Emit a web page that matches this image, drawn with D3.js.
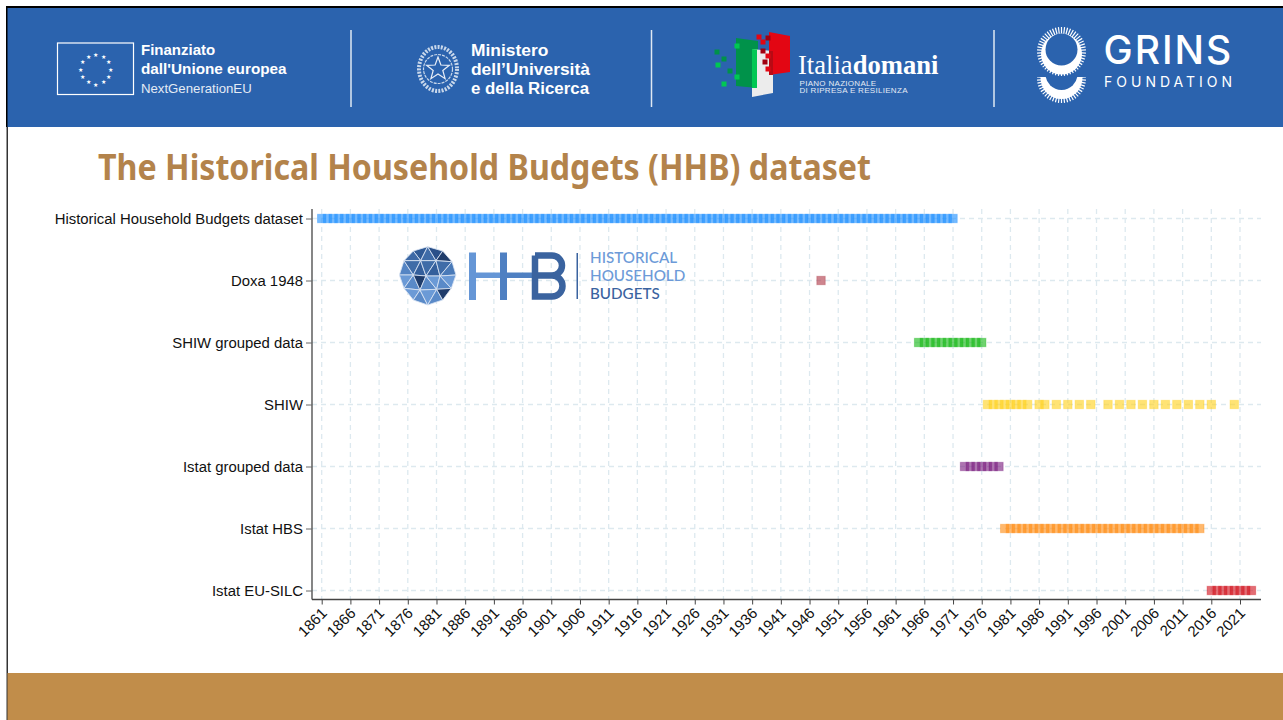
<!DOCTYPE html>
<html>
<head>
<meta charset="utf-8">
<script src="https://d3js.org/d3.v7.min.js"></script>
<style>
html, body { margin: 0; padding: 0; background: #fff; overflow: hidden; }
svg { display: block; }
text { font-family: "Liberation Sans", Arial, sans-serif; }
</style>
</head>
<body>
<svg id="chart" width="1283" height="720"></svg>
<script>
const categories = ['Historical Household Budgets dataset', 'Doxa 1948', 'SHIW grouped data', 'SHIW', 'Istat grouped data', 'Istat HBS', 'Istat EU-SILC'];
const colors = ['#1e90ff', '#b03a48', '#16b816', '#ffd21e', '#7a1f80', '#ff8c14', '#d2141e'];

const hhbYears = [1861,1862,1863,1864,1865,1866,1867,1868,1869,1870,1871,1872,1873,1874,1875,1876,1877,1878,1879,1880,
  1881,1882,1883,1884,1885,1886,1887,1888,1889,1890,1891,1892,1893,1894,1895,1896,1897,1898,1899,1900,
  1901,1902,1903,1904,1905,1906,1907,1908,1909,1910,1911,1912,1913,1914,1915,1916,1917,1918,1919,1920,
  1921,1922,1923,1924,1925,1926,1927,1928,1929,1930,1931,1932,1933,1934,1935,1936,1937,1938,1939,1940,
  1941,1942,1943,1944,1945,1946,1947,1948,1949,1950,1951,1952,1953,1954,1955,1956,1957,1958,1959,1960,
  1961,1962,1963,1964,1965,1966,1967,1968,1969,1970,1971];
const doxaYears = [1948];
const shiwGroupedYears = [1965,1966,1967,1968,1969,1970,1971,1972,1973,1974,1975,1976];
const shiwYears = [1977,1978,1979,1980,1981,1982,1983,1984,1986,1987,1989,1991,1993,1995,1998,2000,2002,2004,2006,2008,2010,2012,2014,2016,2020];
const istatGroupedYears = [1973,1974,1975,1976,1977,1978,1979];
const istatHbsYears = [1980,1981,1982,1983,1984,1985,1986,1987,1988,1989,1990,1991,1992,1993,1994,1995,1996,1997,1998,1999,
  2000,2001,2002,2003,2004,2005,2006,2007,2008,2009,2010,2011,2012,2013,2014];
const silcYears = [2016,2017,2018,2019,2020,2021,2022,2023];
const seriesYears = [hhbYears, doxaYears, shiwGroupedYears, shiwYears, istatGroupedYears, istatHbsYears, silcYears];

const tickYears = [1861,1866,1871,1876,1881,1886,1891,1896,1901,1906,1911,1916,1921,1926,1931,1936,1941,1946,1951,1956,1961,1966,1971,1976,1981,1986,1991,1996,2001,2006,2011,2016,2021];

const svg = d3.select('#chart');

// page frame
svg.append('rect').attr('x', 6).attr('y', 6).attr('width', 1277).attr('height', 121).attr('fill', '#000');
svg.append('rect').attr('x', 6.5).attr('y', 127).attr('width', 1.5).attr('height', 593).attr('fill', '#333');
svg.append('rect').attr('x', 7.5).attr('y', 8).attr('width', 1275.5).attr('height', 119).attr('fill', '#2b63ae');
svg.append('rect').attr('x', 7.5).attr('y', 673).attr('width', 1275.5).attr('height', 47).attr('fill', '#c18d4a');

// header separators
[351, 651.5, 994].forEach((x) => {
    svg.append('line').attr('x1', x).attr('x2', x).attr('y1', 30).attr('y2', 107)
        .attr('stroke', '#dfe8f3').attr('stroke-width', 1.5);
});

const headerText = (x, y, str, size, weight, fill) => svg.append('text')
    .attr('x', x).attr('y', y).text(str)
    .attr('font-size', size).attr('font-weight', weight).attr('fill', fill || '#fff');

// EU logo
svg.append('rect').attr('x', 57.5).attr('y', 43).attr('width', 76).attr('height', 51.5)
    .attr('fill', 'none').attr('stroke', '#fff').attr('stroke-width', 1.2);
d3.range(12).forEach((i) => {
    const a = i * Math.PI / 6;
    svg.append('text').attr('x', 95.5 + 15 * Math.sin(a)).attr('y', 71.5 - 15 * Math.cos(a))
        .attr('text-anchor', 'middle').attr('font-size', 6).attr('fill', '#fff').text('★');
});
headerText(141, 55, 'Finanziato', 15, 'bold');
headerText(141, 74, "dall'Unione europea", 15.3, 'bold');
headerText(141, 93, 'NextGenerationEU', 13.2, 'normal', '#e4ebf5');

// Ministero emblem
const emblem = svg.append('g').attr('transform', 'translate(438,69)');
emblem.append('ellipse').attr('rx', 19).attr('ry', 22).attr('fill', 'none').attr('stroke', '#c9d8eb').attr('stroke-width', 4).attr('stroke-dasharray', '2 1.3');
emblem.append('circle').attr('r', 14.5).attr('fill', 'none').attr('stroke', '#c9d8eb').attr('stroke-width', 1.2).attr('stroke-dasharray', '3 1');
emblem.append('path').attr('fill', 'none').attr('stroke', '#e8eef7').attr('stroke-width', 1.2)
    .attr('d', d3.range(10).map((i) => {
        const r = i % 2 ? 5 : 12;
        const a = i * Math.PI / 5;
        return (i ? 'L' : 'M') + (r * Math.sin(a)).toFixed(1) + ',' + (-r * Math.cos(a)).toFixed(1);
    }).join('') + 'Z');
headerText(471, 56, 'Ministero', 17.4, 'bold');
headerText(471, 75, 'dell’Università', 17.4, 'bold');
headerText(471, 94, 'e della Ricerca', 17.4, 'bold').attr('textLength', 118).attr('lengthAdjust', 'spacingAndGlyphs');

// Italia domani logo
svg.append('path').attr('fill', '#00924a').attr('d', 'M736,38 L758,41 L758,88 L736,86 Z');
svg.append('path').attr('fill', '#ececec').attr('d', 'M752,49 L773,51 L773,93 L752,97 Z');
svg.append('path').attr('fill', '#00c853').attr('d', 'M752,49 L757,49.5 L757,88 L752,88 Z');
svg.append('path').attr('fill', '#e30613').attr('d', 'M769,32 L790,36 L790,72 L769,75 Z');
svg.append('path').attr('fill', '#b80a14').attr('d', 'M769,51 L773,51 L773,75 L769,75 Z');
[[717, 52, '#00924a'], [724, 59, '#00924a'], [718, 65, '#00c853'], [730, 71, '#00924a'], [724, 84, '#00c853'], [737, 46, '#00c853'], [737, 77, '#00c853'],
 [759, 37, '#e30613'], [768, 38, '#a00010'], [763, 42, '#e30613'], [763, 51, '#a00010'], [768, 56, '#e30613'], [765, 62, '#a00010'], [768, 69, '#e30613']].forEach((d) => {
    svg.append('rect').attr('x', d[0] - 2.5).attr('y', d[1] - 2.5).attr('width', 5).attr('height', 5).attr('fill', d[2]);
});
svg.append('text').attr('x', 798).attr('y', 74).attr('font-size', 26.6).attr('fill', '#fff')
    .style('font-family', '"Liberation Serif", serif')
    .call((t) => {
        t.append('tspan').text('Italia');
        t.append('tspan').attr('font-weight', 'bold').text('domani');
    });
headerText(799.5, 86, 'PIANO NAZIONALE', 8, 'normal', '#e4ebf5').attr('letter-spacing', 0.3);
headerText(799.5, 93, 'DI RIPRESA E RESILIENZA', 8, 'normal', '#e4ebf5').attr('letter-spacing', 0.3);

// GRINS logo
const defs = svg.append('defs');
defs.append('clipPath').attr('id', 'grins-low').append('rect').attr('x', 1030).attr('y', 77).attr('width', 64).attr('height', 30);
const radialTicks = (g, cx, cy, count) => d3.range(count).forEach((i) => {
    const a = i * 2 * Math.PI / count;
    g.append('line').attr('x1', cx).attr('y1', cy)
        .attr('x2', cx + 24.5 * Math.sin(a)).attr('y2', cy - 24.5 * Math.cos(a))
        .attr('stroke', '#fff').attr('stroke-width', 1.2);
});
const grinsTop = svg.append('g');
radialTicks(grinsTop, 1061.5, 51.5, 50);
grinsTop.append('circle').attr('cx', 1061.5).attr('cy', 54).attr('r', 20.5).attr('fill', '#fff');
grinsTop.append('circle').attr('cx', 1061.5).attr('cy', 49.5).attr('r', 16).attr('fill', '#2b63ae');
const grinsLow = svg.append('g').attr('clip-path', 'url(#grins-low)');
radialTicks(grinsLow, 1061.5, 78.5, 50);
grinsLow.append('circle').attr('cx', 1061.5).attr('cy', 78).attr('r', 21).attr('fill', '#fff');
grinsLow.append('circle').attr('cx', 1061.5).attr('cy', 74).attr('r', 16).attr('fill', '#2b63ae');
headerText(1103.5, 63.5, 'GRINS', 39, 500).attr('letter-spacing', 2).style('font-family', 'Inter, sans-serif');
headerText(1104, 87, 'FOUNDATION', 14, 'normal').attr('letter-spacing', 4).style('font-family', 'Inter, sans-serif');

// title
svg.append('text').attr('x', 98).attr('y', 180).text('The Historical Household Budgets (HHB) dataset')
    .attr('font-size', 36).attr('font-weight', 'bold').attr('fill', '#b3834b')
    .attr('textLength', 773).attr('lengthAdjust', 'spacingAndGlyphs')
    .style('font-family', '"Noto Sans", sans-serif');

// scales
const x = d3.scaleLinear().domain([1861, 2021]).range([321.7, 1240]);
const y = d3.scalePoint().domain(categories).range([218.5, 590.5]);
const plotLeft = 312, plotRight = 1261, plotTop = 209, plotBottom = 599.5;

// grid
const gridColor = '#dde9ef';
svg.append('g').selectAll('line').data(tickYears).enter().append('line')
    .attr('x1', (d) => x(d)).attr('x2', (d) => x(d))
    .attr('y1', plotTop).attr('y2', plotBottom)
    .attr('stroke', gridColor).attr('stroke-width', 1.3).attr('stroke-dasharray', '5 4');
svg.append('g').selectAll('line').data(categories).enter().append('line')
    .attr('x1', plotLeft).attr('x2', plotRight)
    .attr('y1', (d) => y(d)).attr('y2', (d) => y(d))
    .attr('stroke', gridColor).attr('stroke-width', 1.3).attr('stroke-dasharray', '5 4');

// axes
const xAxis = svg.append('g').attr('transform', `translate(0,${plotBottom})`)
    .call(d3.axisBottom(x).tickValues(tickYears).tickFormat(d3.format('d')).tickSize(5).tickSizeOuter(0));
xAxis.select('.domain').attr('d', `M${plotLeft},0H${plotRight}`).attr('stroke', '#444').attr('stroke-width', 1.3);
xAxis.selectAll('.tick line').attr('stroke', '#444');
xAxis.selectAll('text')
    .attr('font-size', 15).attr('font-family', '"Liberation Sans", Arial, sans-serif').attr('fill', '#111')
    .attr('text-anchor', 'end').attr('dx', 0).attr('dy', 0)
    .attr('transform', 'translate(0,9) rotate(-45)');

const yAxis = svg.append('g').attr('transform', `translate(${plotLeft},0)`)
    .call(d3.axisLeft(y).tickSize(6).tickSizeOuter(0).tickPadding(3));
yAxis.select('.domain').attr('d', `M0,${plotTop}V${plotBottom}`).attr('stroke', '#444').attr('stroke-width', 1.3);
yAxis.selectAll('.tick line').attr('stroke', '#666');
yAxis.selectAll('text').attr('font-size', 14.9).attr('font-family', '"Liberation Sans", Arial, sans-serif').attr('fill', '#111').attr('dy', '0.36em');

// HHB logo
const logo = svg.append('g');
const globe = logo.append('g').attr('transform', 'translate(390,240) scale(0.3333)');
const mesh = { A: [113,20], B: [70,33], C: [158,33], D: [42,62], E: [92,62], F: [138,62], G: [186,65], H: [28,105], I: [70,105], J: [108,108], K: [150,108], L: [198,105], M: [42,145], N: [90,150], O: [140,148], P: [184,145], Q: [70,180], R: [113,195], S: [158,180] };
[['ABE','#2f5a96'],['AEF','#3f6ca8'],['AFC','#2a5089'],['BDE','#3d69a6'],['CFG','#1f3c6b'],['DHI','#5585c4'],['DIE','#3f6ca8'],['EIJ','#345f9c'],['EJF','#3f6ca8'],['FJK','#345f9c'],['FKG','#3f6ca8'],['GKL','#4a7ab8'],
 ['HMI','#6b9ad6'],['IMN','#5a8ac8'],['INJ','#1f3c6b'],['JNO','#5a8ac8'],['JOK','#6b9ad6'],['KOP','#5a8ac8'],['KPL','#6b9ad6'],['MQN','#6b9ad6'],['NQR','#5a8ac8'],['NRO','#6b9ad6'],['ORS','#5a8ac8'],['OSP','#1f3c6b']].forEach((t) => {
    globe.append('path').attr('fill', t[1]).attr('stroke', '#dbe5f3').attr('stroke-width', 2.5).attr('stroke-linejoin', 'round')
        .attr('d', 'M' + t[0].split('').map((k) => mesh[k].join(',')).join('L') + 'Z');
});
logo.append('rect').attr('x', 469).attr('y', 252.5).attr('width', 7).attr('height', 47.5).attr('fill', '#6596d6');
logo.append('rect').attr('x', 476).attr('y', 272.5).attr('width', 24).attr('height', 5.5).attr('fill', '#6596d6');
logo.append('rect').attr('x', 500).attr('y', 252.5).attr('width', 7).attr('height', 47.5).attr('fill', '#4f80c2');
logo.append('rect').attr('x', 507).attr('y', 272.5).attr('width', 26).attr('height', 5.5).attr('fill', '#4f80c2');
logo.append('path').attr('fill', 'none').attr('stroke', '#3a639f').attr('stroke-width', 6.5)
    .attr('d', 'M535,255.5 H552 A10,10 0 0 1 552,275.5 H535 M552,275.5 A10.25,10.25 0 0 1 552,296.5 H535 V255.5');
logo.append('rect').attr('x', 576.5).attr('y', 253).attr('width', 1.5).attr('height', 46).attr('fill', '#3a639f');
[['HISTORICAL', 263, '#6c9ad8'], ['HOUSEHOLD', 281, '#6c9ad8'], ['BUDGETS', 299, '#3a639f']].forEach((d) => {
    logo.append('text').attr('x', 590).attr('y', d[1]).attr('font-size', 15.2).attr('fill', d[2]).attr('font-weight', 500).style('font-family', 'Lato, sans-serif').text(d[0]);
});

// markers
const boxSize = 9.4;
categories.forEach((c, i) => {
    svg.append('g').selectAll('rect').data(seriesYears[i]).enter().append('rect')
        .attr('x', (d) => x(d) - boxSize / 2 + 0.5)
        .attr('y', y(c) - boxSize / 2 + 0.5)
        .attr('width', boxSize - 1).attr('height', boxSize - 1)
        .attr('fill', colors[i]).attr('fill-opacity', 0.62)
        .attr('stroke', colors[i]).attr('stroke-opacity', 0.35);
});
</script>
</body>
</html>
